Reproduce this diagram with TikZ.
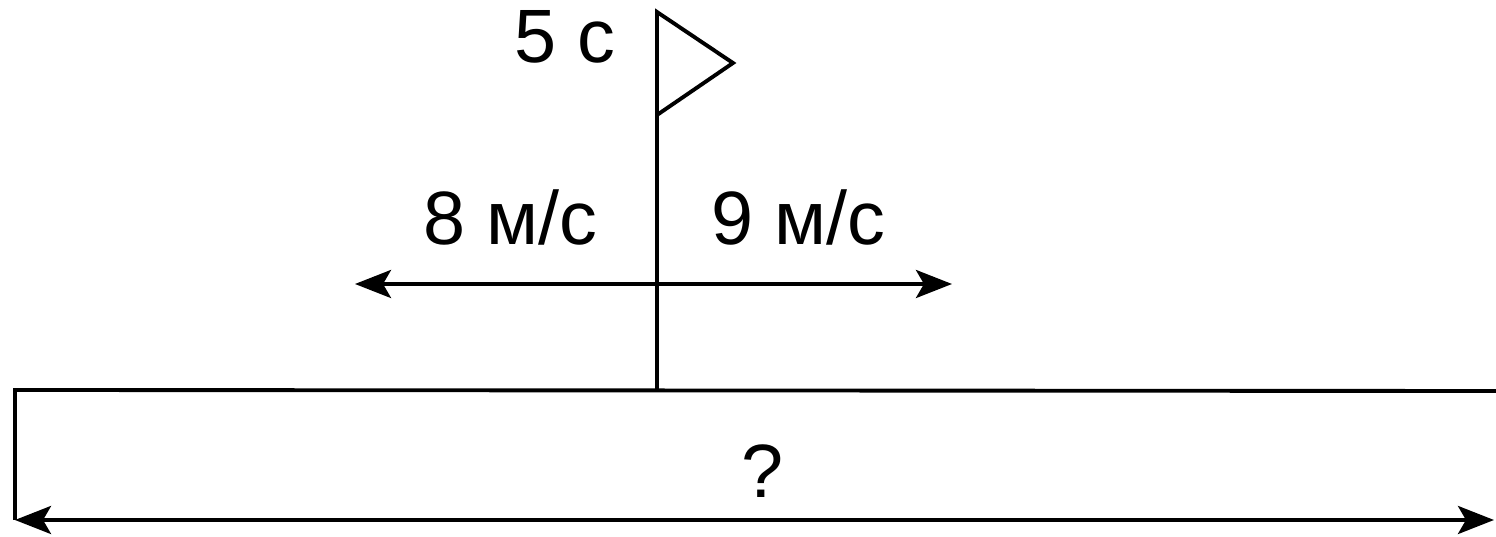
\documentclass[tikz,border=0pt]{standalone}
\usepackage{fontspec}
\setmainfont{Liberation Sans}
\usepackage{tikz}
\usetikzlibrary{arrows.meta, positioning}
\tikzset{
  line/.style={line width=1.1pt, color=black},
  dblarrow/.style={line, {Stealth[length=3.6mm, width=2.8mm, inset=0.8mm]}-{Stealth[length=3.6mm, width=2.8mm, inset=0.8mm]}},
  txt/.style={font=\fontsize{21.5}{25}\selectfont, inner sep=0pt, anchor=base},
}

\begin{document}
\begin{tikzpicture}[x=0.01cm, y=-0.01cm]
  \useasboundingbox (0,0) rectangle (1496,537);
  % flag on its pole
  \coordinate (poletop) at (657,12);
  \coordinate (polefoot) at (657,390);
  \coordinate (flagtip) at (733,63);
  \coordinate (flaglow) at (657,115);
  \draw[line] (polefoot) -- (poletop) -- (flagtip) -- (flaglow);
  \node[txt] (time) at (565,63) {5 с};
  % the two speeds
  \coordinate (west) at (355,284);
  \coordinate (east) at (952,284);
  \draw[dblarrow] (west) -- (east);
  \node[txt] (speedl) at (510,245) {8 м/с};
  \node[txt] (speedr) at (798,245) {9 м/с};
  % platform and its length
  \coordinate (nw) at (15,390);
  \coordinate (ne) at (1496,391);
  \coordinate (sw) at (15,520);
  \coordinate (se) at (1494,520);
  \draw[line] (ne) -- (nw) -- (sw);
  \draw[dblarrow] (sw) -- (se);
  \node[txt] (len) at (763,498) {?};
\end{tikzpicture}
\end{document}
